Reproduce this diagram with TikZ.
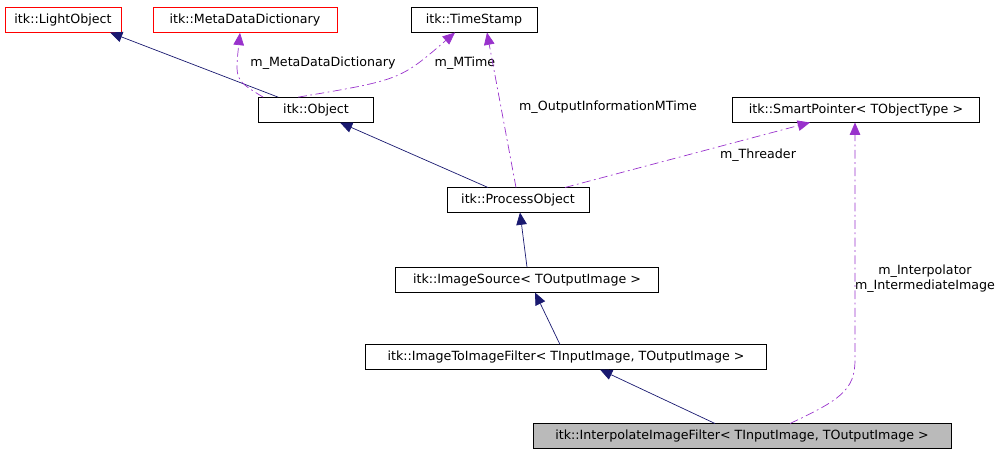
\documentclass[tikz,border=0pt]{standalone}
\usepackage{fontspec}
\setmainfont{DejaVu Sans}
\usetikzlibrary{arrows.meta}
\definecolor{navy}{RGB}{25,25,112}
\definecolor{purp}{RGB}{153,50,204}
\begin{document}
\begin{tikzpicture}[x=0.02cm,y=-0.02cm,
  box/.style={draw=black,fill=white,minimum height=0.5cm,inner sep=0pt,font=\fontsize{7.2}{8.5}\selectfont},
  rbox/.style={box,draw=red},
  inh/.style={navy,-{Triangle[length=7pt,width=6pt]}},
  use/.style={purp,dash pattern=on 5pt off 2pt on 1pt off 2pt,-{Triangle[length=7pt,width=6pt]}},
  lab/.style={font=\fontsize{7.2}{8.5}\selectfont,inner sep=1pt,align=center}]
\useasboundingbox (0,0) rectangle (1008,453);
\node[rbox,minimum width=2.32cm] (lo) at (63,20) {itk::LightObject};
\node[rbox,minimum width=3.68cm] (md) at (245,20) {itk::MetaDataDictionary};
\node[box,minimum width=2.52cm] (ts) at (474,20) {itk::TimeStamp};
\node[box,minimum width=2.3cm] (ob) at (316,110) {itk::Object};
\node[box,minimum width=4.94cm] (sp) at (856,110) {itk::SmartPointer< TObjectType >};
\node[box,minimum width=2.84cm] (po) at (518,200) {itk::ProcessObject};
\node[box,minimum width=5.26cm] (is) at (527,280) {itk::ImageSource< TOutputImage >};
\node[box,minimum width=8.02cm] (ii) at (566,357) {itk::ImageToImageFilter< TInputImage, TOutputImage >};
\node[box,fill=black!27,minimum width=8.36cm] (ip) at (742,436) {itk::InterpolateImageFilter< TInputImage, TOutputImage >};

\draw[inh] (ob.north west)++(20,0) -- (110,32.5);
\draw[use] (ob.north west)++(5,0) .. controls (235,80) .. (md.south -| 240,0);
\draw[use] (ob.north west)++(40,0) .. controls (400,80) .. (455,32.5);
\node[lab] (l1) at (323,63) {m\_MetaDataDictionary};
\node[lab] (l2) at (465,63) {m\_MTime};
\draw[use] (516,187.5) -- (487,32.5);
\node[lab] (l3) at (608,107) {m\_OutputInformationMTime};
\draw[inh] (488,187.5) -- (340,122.5);
\draw[use] (565,187.5) -- (810,122.5);
\node[lab] (l4) at (758,155) {m\_Threader};
\draw[inh] (is.north) -- (520,212.5);
\draw[inh] (560,344.5) -- (535,292.5);
\draw[inh] (715,423.5) -- (600,369.5);
\draw[use] (790,423.5) .. controls (840,400) and (855,390) .. (855,360) -- (855,122.5);
\node[lab] (l5) at (925,279) {m\_Interpolator\\m\_IntermediateImage};
\end{tikzpicture}
\end{document}
